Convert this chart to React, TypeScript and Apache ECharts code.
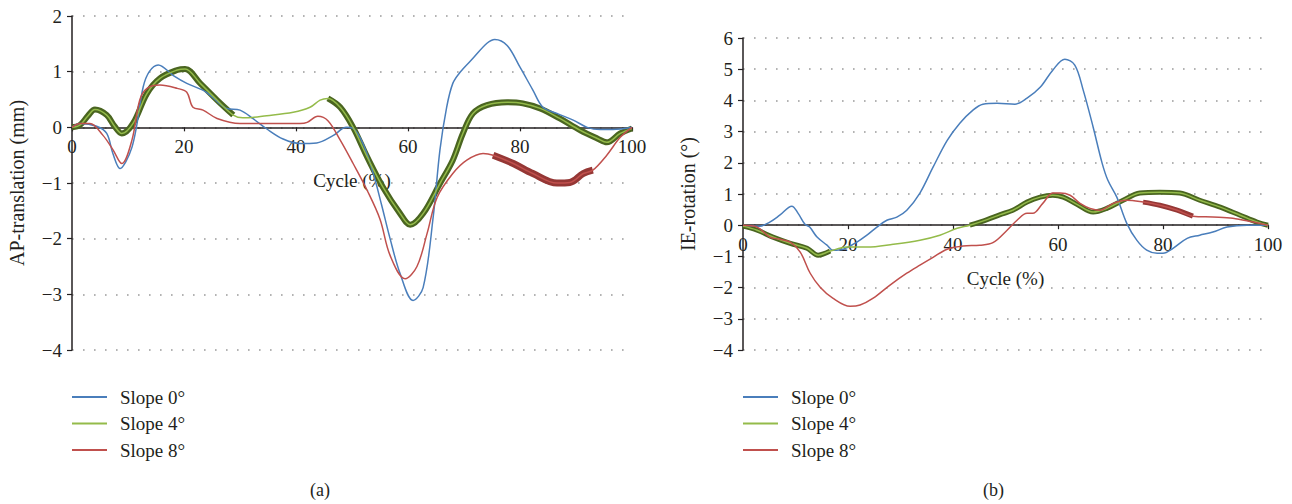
import React, { useEffect, useRef } from "react";
import * as echarts from "echarts";

const seriesNames = ["Slope 0°", "Slope 4°", "Slope 8°"];
const xTicks = { min: 0, max: 100, interval: 20 };
const apRange = { min: -4, max: 2 };
const ieRange = { min: -4, max: 6 };

// (a) AP-translation (mm) vs cycle (%)
const apSlope0 = [
  [0, 0], [1.4, 0.07], [4.4, 0.02], [6.2, -0.11], [7.3, -0.47], [8.6, -0.74], [9.6, -0.62], [10.7, -0.36],
  [11.5, 0], [12.7, 0.72], [13.8, 1.0], [15.4, 1.12], [18.1, 0.93], [20.5, 0.79], [24, 0.63], [27.6, 0.34],
  [30, 0.31], [32.4, 0.15], [34.8, -0.03], [37.7, -0.21], [40.7, -0.29], [43.7, -0.28], [46.6, -0.15],
  [49, 0.0], [50.2, -0.02], [52, -0.3], [53.8, -0.83], [55.3, -1.4], [56.8, -2.0], [58.6, -2.63],
  [60.9, -3.11], [62.7, -2.88], [64.5, -1.61], [65.7, -0.41], [66.9, 0.36], [68, 0.79], [69.3, 0.99],
  [71.6, 1.24], [74.1, 1.51], [75.5, 1.58], [77.7, 1.47], [80, 1.08], [82.3, 0.67], [84.1, 0.36],
  [86.6, 0.25], [89.5, 0.13], [92, 0], [94.3, -0.04], [96.6, -0.04], [100, 0],
];
const apSlope4 = [
  [0, 0], [1.4, 0.04], [2.8, 0.2], [4.1, 0.32], [6.2, 0.22], [7.6, 0.02], [8.9, -0.11], [10.9, 0.07],
  [13.4, 0.61], [15.7, 0.88], [18.8, 1.03], [20.2, 1.05], [22.9, 0.79], [25.9, 0.49], [28.8, 0.22],
  [30.5, 0.17], [34.8, 0.21], [39.5, 0.27], [42.5, 0.36], [44.3, 0.49], [45.7, 0.52], [47.9, 0.36],
  [50.2, 0.0], [52.7, -0.53], [55.5, -1.07], [58.6, -1.55], [60.4, -1.75], [62.7, -1.55], [65.7, -1.01],
  [68, -0.59], [69.8, -0.11], [71.6, 0.25], [74.1, 0.4], [77.7, 0.45], [80.5, 0.43], [83.6, 0.34],
  [87.1, 0.16], [90.7, -0.05], [93.8, -0.2], [95.5, -0.27], [97.9, -0.11], [100, -0.02],
];
const apSlope8 = [
  [0, 0], [1.4, 0.07], [3.2, 0.07], [5.5, -0.14], [7.3, -0.4], [8.9, -0.65], [10.7, -0.23], [12.1, 0.49],
  [13.4, 0.7], [15.7, 0.76], [18.8, 0.7], [20.5, 0.63], [21.6, 0.36], [23.4, 0.31], [25.9, 0.16],
  [30, 0.07], [34.8, 0.07], [40.7, 0.07], [42, 0.09], [43.9, 0.2], [45.7, 0.12], [47.9, -0.23],
  [50.2, -0.65], [52.7, -1.13], [55, -1.65], [56.8, -2.3], [59.5, -2.72], [61.6, -2.5], [63.4, -1.91],
  [65.2, -1.26], [68, -0.83], [70.5, -0.59], [73.4, -0.47], [75.2, -0.5], [78.8, -0.65], [82.3, -0.83],
  [86.6, -1.0], [88.9, -0.99], [91.3, -0.83], [93, -0.77], [95.5, -0.5], [97.9, -0.18], [100, 0],
];

// (b) IE-rotation (°) vs cycle (%)
const ieSlope0 = [
  [0, 0], [3.2, -0.03], [5.1, 0.1], [7, 0.32], [9.3, 0.61], [10.5, 0.38], [11.8, 0.03], [12.7, -0.06],
  [14.1, -0.38], [16, -0.64], [17.1, -0.8], [19.1, -0.77], [21.7, -0.54], [23.6, -0.32], [25.5, -0.06],
  [27.4, 0.16], [29.3, 0.26], [31.2, 0.48], [33.7, 1.03], [36.2, 1.86], [38.9, 2.72], [41.3, 3.27],
  [43.8, 3.69], [45.7, 3.88], [48.4, 3.91], [51.8, 3.88], [54.1, 4.07], [56.6, 4.42], [59, 4.97],
  [61.3, 5.32], [63.2, 5.13], [64.8, 4.33], [66.7, 3.14], [68.4, 1.99], [69.5, 1.44], [71.2, 0.9],
  [73.1, 0.06], [75, -0.48], [76.9, -0.8], [78.9, -0.9], [80, -0.9], [81.9, -0.74], [84.6, -0.42],
  [87, -0.32], [89.5, -0.22], [92.2, -0.06], [96, 0], [100, 0],
];
const ieSlope4 = [
  [0, -0.03], [2.7, -0.16], [5.7, -0.38], [9, -0.58], [12.2, -0.74], [14.3, -0.96], [16.6, -0.83],
  [19.8, -0.7], [23.6, -0.7], [28.6, -0.61], [33.7, -0.48], [37.5, -0.32], [40.8, -0.1], [43.2, 0],
  [46.5, 0.18], [49, 0.34], [51.4, 0.48], [54.1, 0.74], [56.6, 0.9], [59, 0.96], [61, 0.9], [63.6, 0.67],
  [66.7, 0.42], [69.3, 0.54], [72.4, 0.8], [75.6, 1.03], [79.4, 1.06], [83.2, 1.03], [87, 0.8],
  [90.9, 0.58], [94.7, 0.32], [97.9, 0.1], [100, 0],
];
const ieSlope8 = [
  [0, 0], [2.7, -0.06], [5.1, -0.38], [7, -0.45], [9, -0.54], [10.9, -0.86], [12.8, -1.54], [14.7, -1.99],
  [17.1, -2.34], [20.4, -2.6], [22.3, -2.56], [24.8, -2.34], [28, -1.92], [31.2, -1.54], [33.7, -1.28],
  [36.2, -1.03], [38.9, -0.77], [41.9, -0.67], [45.1, -0.64], [47.6, -0.56], [50.3, -0.16], [52.2, 0.16],
  [54.1, 0.38], [55.2, 0.38], [57.1, 0.7], [59, 1.03], [60.4, 1.03], [62.3, 0.96], [64.2, 0.7],
  [66.1, 0.54], [68, 0.48], [70.5, 0.7], [73.1, 0.8], [76.2, 0.74], [79.4, 0.64], [82.7, 0.48],
  [85.7, 0.29], [89.5, 0.26], [93.3, 0.22], [97.1, 0.1], [100, 0],
];

// cycle ranges where trial-to-trial spread forms a visible band
const apSlope4Band = [[0, 30], [45, 100]];
const apSlope8Band = [[75, 93]];
const ieSlope4Band = [[0, 17], [43, 100]];
const ieSlope8Band = [[76, 86]];

const captions = ["(a)", "(b)"];

const FONT = "'Liberation Serif', 'DejaVu Serif', serif";
const TEXT = "#231f20";
const BLUE = "#4a7ebb";
const GREEN = "#94bb4a";
const GREEN_DARK = "#4a6520";
const RED = "#c0504d";
const RED_DARK = "#953735";

function bandData(points: number[][], ranges: number[][]) {
  return points.map(([x, y]) =>
    ranges.some(([a, b]) => x >= a && x <= b) ? [x, y] : [x, "-"]
  );
}

const minus = (v: number) => String(v).replace("-", "\u2212");

export default function App() {
  const ref = useRef<HTMLDivElement>(null);

  useEffect(() => {
    if (!ref.current) return;
    const chart = echarts.init(ref.current, undefined, { renderer: "svg" });

    // the x axis sits on y = 0; its offset from the grid bottom follows from the y range
    const xAxisBase = (gridIndex: number, r: { min: number; max: number }, gridHeight: number) => ({
      type: "value",
      gridIndex,
      position: "bottom",
      offset: (r.min / (r.max - r.min)) * gridHeight,
      min: xTicks.min,
      max: xTicks.max,
      interval: xTicks.interval,
      name: "Cycle (%)",
      nameLocation: "middle",
      nameGap: 44,
      nameMoveOverlap: false,
      nameTextStyle: { fontFamily: FONT, fontSize: 19, color: TEXT },
      axisLine: { onZero: false, lineStyle: { color: TEXT, width: 1.5 } },
      axisTick: { show: true, length: 4, lineStyle: { color: TEXT, width: 1.2 } },
      axisLabel: { fontFamily: FONT, fontSize: 19, color: TEXT, margin: 10 },
      splitLine: { show: false },
    });

    const yAxisBase = (gridIndex: number, r: { min: number; max: number }, name: string) => ({
      type: "value",
      gridIndex,
      min: r.min,
      max: r.max,
      interval: 1,
      name,
      nameLocation: "middle",
      nameGap: 45,
      nameMoveOverlap: false,
      nameTextStyle: { fontFamily: FONT, fontSize: 20, color: TEXT },
      axisLine: { show: true, onZero: false, lineStyle: { color: TEXT, width: 1.5 } },
      axisTick: { show: true, length: 5, lineStyle: { color: TEXT, width: 1.2 } },
      axisLabel: { fontFamily: FONT, fontSize: 19, color: TEXT, margin: 10, formatter: minus },
      splitLine: { show: true, lineStyle: { color: "#9a9a9a", width: 1.6, type: [1.6, 9.4] } },
    });

    const line = (name: string, data: any[], color: string, width: number, xi: number, z: number) => ({
      name,
      type: "line",
      xAxisIndex: xi,
      yAxisIndex: xi,
      data,
      showSymbol: false,
      symbol: "none",
      smooth: 0.35,
      connectNulls: false,
      z,
      lineStyle: { color, width },
      itemStyle: { color },
    });

    const legend = (left: number) => ({
      orient: "vertical",
      left,
      top: 387,
      padding: 0,
      icon: "rect",
      itemWidth: 35,
      itemHeight: 2,
      itemGap: 6.5,
      data: seriesNames,
      textStyle: { fontFamily: FONT, fontSize: 19, color: TEXT, lineHeight: 20, padding: [0, 0, 0, 8] },
    });

    chart.setOption({
      animation: false,
      backgroundColor: "#ffffff",
      textStyle: { fontFamily: FONT, color: TEXT },
      grid: [
        { left: 72, top: 16, width: 560, height: 334, containLabel: false },
        { left: 743, top: 38, width: 525, height: 312, containLabel: false },
      ],
      legend: [legend(72), legend(743)],
      xAxis: [xAxisBase(0, apRange, 334), xAxisBase(1, ieRange, 312)],
      yAxis: [
        yAxisBase(0, apRange, "AP-translation (mm)"),
        yAxisBase(1, ieRange, "IE-rotation (°)"),
      ],
      series: [
        line("band-a-4", bandData(apSlope4, apSlope4Band), GREEN_DARK, 6, 0, 2),
        line("band-a-8", bandData(apSlope8, apSlope8Band), RED_DARK, 7, 0, 2),
        line(seriesNames[0], apSlope0, BLUE, 1.5, 0, 3),
        line(seriesNames[1], apSlope4, GREEN, 1.5, 0, 4),
        line(seriesNames[2], apSlope8, RED, 1.5, 0, 4),
        line("band-b-4", bandData(ieSlope4, ieSlope4Band), GREEN_DARK, 5, 1, 2),
        line("band-b-8", bandData(ieSlope8, ieSlope8Band), RED_DARK, 5, 1, 2),
        line(seriesNames[0], ieSlope0, BLUE, 1.5, 1, 3),
        line(seriesNames[1], ieSlope4, GREEN, 1.5, 1, 4),
        line(seriesNames[2], ieSlope8, RED, 1.5, 1, 4),
      ],
      graphic: [
        {
          type: "text",
          left: 310,
          top: 481,
          style: { text: captions[0], font: `18px ${FONT}`, fill: TEXT },
        },
        {
          type: "text",
          left: 983,
          top: 481,
          style: { text: captions[1], font: `18px ${FONT}`, fill: TEXT },
        },
      ],
    });

    return () => chart.dispose();
  }, []);

  return (
    <div
      ref={ref}
      style={{ position: "absolute", left: 0, top: 0, width: 1292, height: 504 }}
    />
  );
}
